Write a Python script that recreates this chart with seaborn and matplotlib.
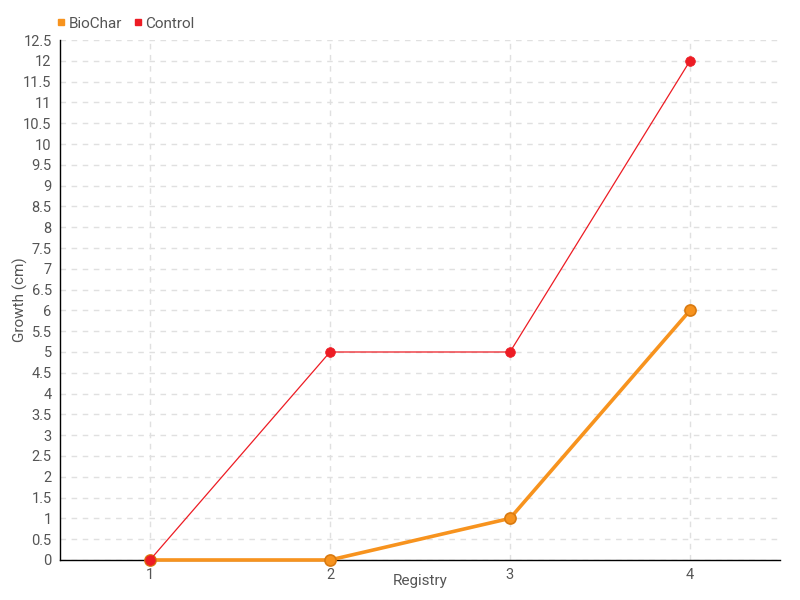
import pandas as pd
import matplotlib.pyplot as plt
import matplotlib.lines as mlines
import seaborn as sns

# Dados
registros = [1, 2, 3, 4]
biochar = [0, 0, 1, 6]
controle = [0, 5, 5, 12]

df = pd.DataFrame({
    'Registry': registros * 2,
    'Growth': biochar + controle,
    'Serie': ['BioChar'] * 4 + ['Control'] * 4,
})

sns.set_theme(style='white')
plt.rcParams['font.family'] = ['Roboto', 'DejaVu Sans']

cor_texto = '#555555'
cores = {'BioChar': '#f7931e', 'Control': '#ed1c24'}

fig = plt.figure(figsize=(8, 6), dpi=100)
ax = fig.add_axes([0.075, 0.0667, 0.9, 0.8666])

# BioChar: linha grossa
sns.lineplot(data=df[df['Serie'] == 'BioChar'], x='Registry', y='Growth', ax=ax,
             color=cores['BioChar'], linewidth=2.6, marker='o', markersize=8,
             markeredgecolor='#d97a10', markeredgewidth=1.2, zorder=3, clip_on=False)
# Control: linha fina
sns.lineplot(data=df[df['Serie'] == 'Control'], x='Registry', y='Growth', ax=ax,
             color=cores['Control'], linewidth=0.9, marker='o', markersize=7,
             markeredgecolor=cores['Control'], markeredgewidth=0.5, zorder=4, clip_on=False)

ax.set_xlim(0.5, 4.5)
ax.set_ylim(0, 12.5)
ax.set_xticks(registros)
ax.set_yticks([i * 0.5 for i in range(26)])
ax.set_yticklabels([('%g' % (i * 0.5)) for i in range(26)])

ax.grid(True, linestyle=(0, (4, 4)), color='#e0e0e0', linewidth=1)
ax.set_axisbelow(True)

for lado in ['top', 'right']:
    ax.spines[lado].set_visible(False)
for lado in ['left', 'bottom']:
    ax.spines[lado].set_color('black')
    ax.spines[lado].set_linewidth(1)

ax.tick_params(axis='both', colors=cor_texto, labelsize=10.5, length=5, width=1)
ax.tick_params(axis='x', pad=-2, color='#666666', length=8)
ax.tick_params(axis='y', pad=2, color='black', length=4)

ax.set_xlabel('Registry', color=cor_texto, fontsize=11)
ax.set_ylabel('Growth (cm)', color=cor_texto, fontsize=11)
ax.xaxis.set_label_coords(0.5, -0.027)
ax.yaxis.set_label_coords(-0.044, 0.5)

# Legenda com marcadores quadrados
handles = [mlines.Line2D([], [], color=cores[s], marker='s', linestyle='None', markersize=5)
           for s in ['BioChar', 'Control']]
fig.legend(handles, ['BioChar', 'Control'], loc='upper left', bbox_to_anchor=(0.052, 0.995),
           ncol=2, frameon=False, fontsize=11, handletextpad=0.1, columnspacing=0.6,
           labelcolor=cor_texto, handlelength=0.8)

plt.savefig('out.png', dpi=100)
